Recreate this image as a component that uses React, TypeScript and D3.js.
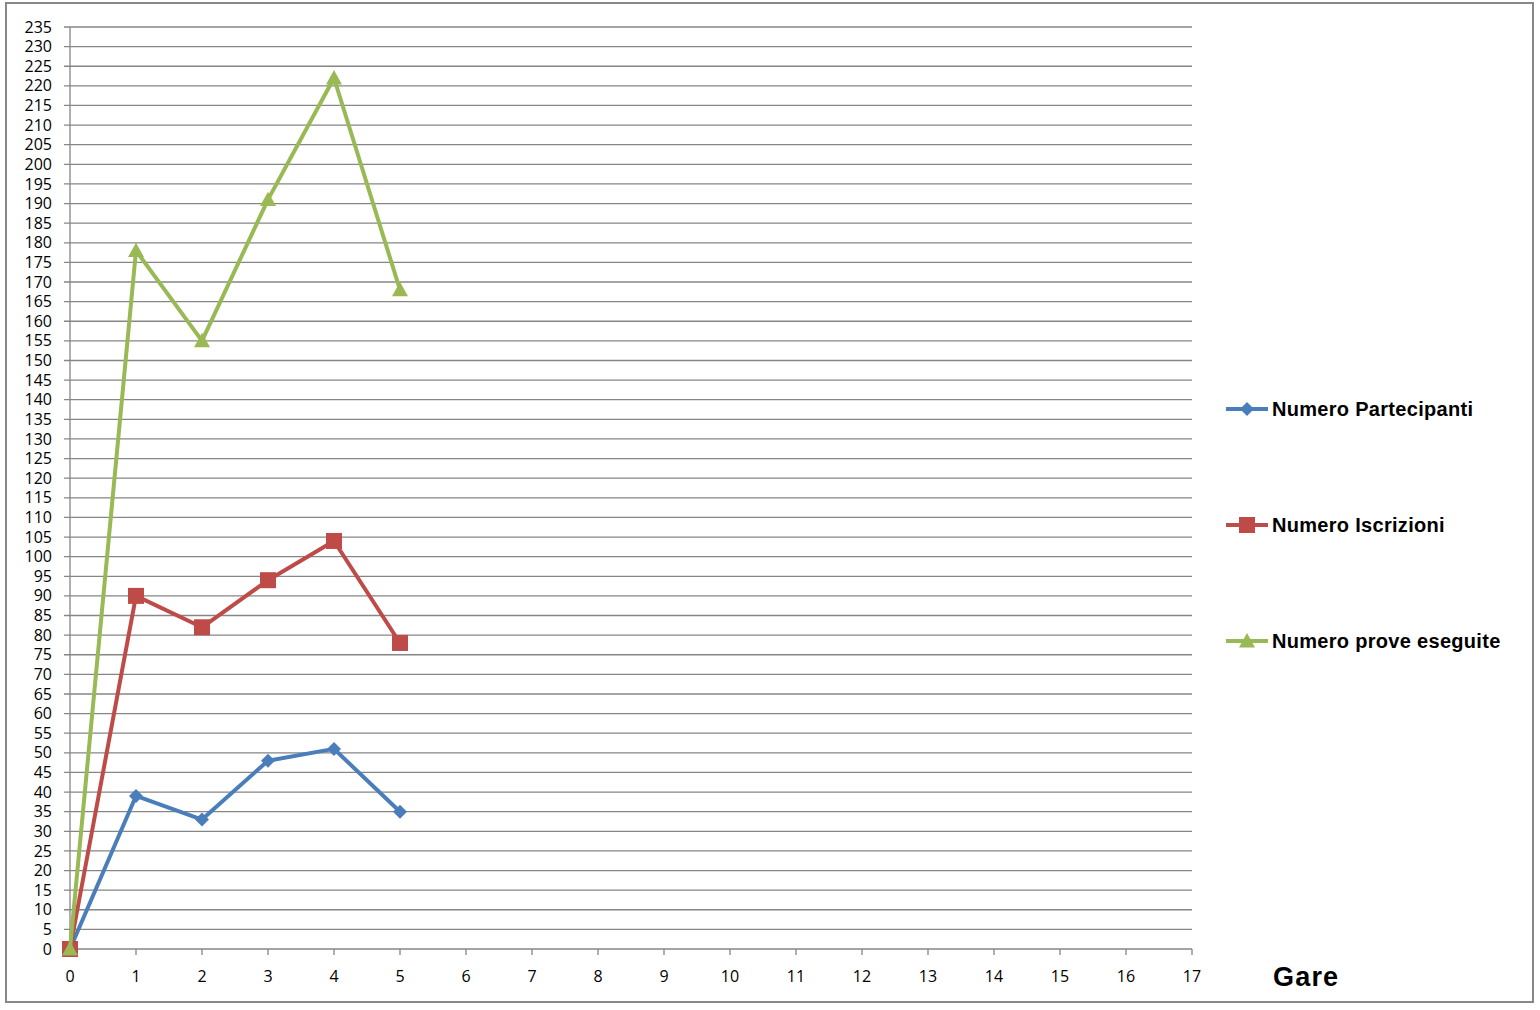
import React from "react";
import * as d3 from "d3";

const races = [0, 1, 2, 3, 4, 5];
const partecipanti = [0, 39, 33, 48, 51, 35];
const iscrizioni = [0, 90, 82, 94, 104, 78];
const prove = [0, 178, 155, 191, 222, 168];
const seriesNames = ["Numero Partecipanti", "Numero Iscrizioni", "Numero prove eseguite"];
const seriesColors = ["#4a7ebb", "#be4b48", "#98b954"];
const seriesMarkers = ["diamond", "square", "triangle"];
const xTicks = d3.range(0, 18);
const yTicks = d3.range(0, 240, 5);
const xTitle = "Gare";

const W = 1540, H = 1010;
const x = d3.scaleLinear().domain([0, 17]).range([70, 1192]);
const y = d3.scaleLinear().domain([0, 235]).range([949, 27]);

function Marker({ type, cx, cy, color }: { type: string; cx: number; cy: number; color: string }) {
  if (type === "diamond") {
    const s = 7;
    return <path d={`M${cx},${cy - s}L${cx + s},${cy}L${cx},${cy + s}L${cx - s},${cy}Z`} fill={color} />;
  }
  if (type === "square") {
    const s = 8;
    return <rect x={cx - s} y={cy - s} width={2 * s} height={2 * s} fill={color} />;
  }
  const s = 8;
  return <path d={`M${cx},${cy - s}L${cx + s},${cy + s * 0.8}L${cx - s},${cy + s * 0.8}Z`} fill={color} />;
}

export default function App() {
  const data = [partecipanti, iscrizioni, prove];
  const line = d3.line<number>().x((_, i) => x(races[i])).y((d) => y(d));
  const legendY = [409, 525, 641];
  return (
    <svg width={W} height={H} style={{ position: "absolute", left: 0, top: 0 }} fontFamily="'Open Sans', sans-serif">
      <rect x={0} y={0} width={W} height={H} fill="#fff" />
      <rect x={6} y={3} width={1527} height={999} fill="#fff" stroke="#888" strokeWidth={2} />
      {yTicks.map((t) => (
        <g key={"y" + t}>
          <line x1={64} x2={1192} y1={y(t)} y2={y(t)} stroke="#868686" strokeWidth={1.3} />
          <text x={52} y={y(t)} dy="0.35em" textAnchor="end" fontSize={16} fill="#000">{t}</text>
        </g>
      ))}
      <line x1={x(0)} x2={x(0)} y1={y(235)} y2={y(0)} stroke="#868686" strokeWidth={1.3} />
      {xTicks.map((t) => (
        <g key={"x" + t}>
          <line x1={x(t)} x2={x(t)} y1={y(0)} y2={y(0) + 6} stroke="#868686" strokeWidth={1.3} />
          <text x={x(t)} y={976} dy="0.35em" textAnchor="middle" fontSize={16} fill="#000">{t}</text>
        </g>
      ))}
      <text x={1273} y={986} fontSize={27} letterSpacing={1.2} fontWeight="bold" fontFamily="'Liberation Sans', Arial, sans-serif" fill="#000">{xTitle}</text>
      {data.map((vals, si) => (
        <g key={"s" + si}>
          <path d={line(vals) || ""} fill="none" stroke={seriesColors[si]} strokeWidth={4} strokeLinejoin="round" />
          {vals.map((v, i) => (
            <Marker key={i} type={seriesMarkers[si]} cx={x(races[i])} cy={y(v)} color={seriesColors[si]} />
          ))}
        </g>
      ))}
      {seriesNames.map((n, si) => (
        <g key={"l" + si}>
          <line x1={1226} x2={1268} y1={legendY[si]} y2={legendY[si]} stroke={seriesColors[si]} strokeWidth={4} />
          <Marker type={seriesMarkers[si]} cx={1247} cy={legendY[si]} color={seriesColors[si]} />
          <text x={1272} y={legendY[si]} dy="0.35em" fontSize={20} letterSpacing={0.3} fontWeight="bold" fontFamily="'Liberation Sans', Arial, sans-serif" fill="#000">{n}</text>
        </g>
      ))}
    </svg>
  );
}
